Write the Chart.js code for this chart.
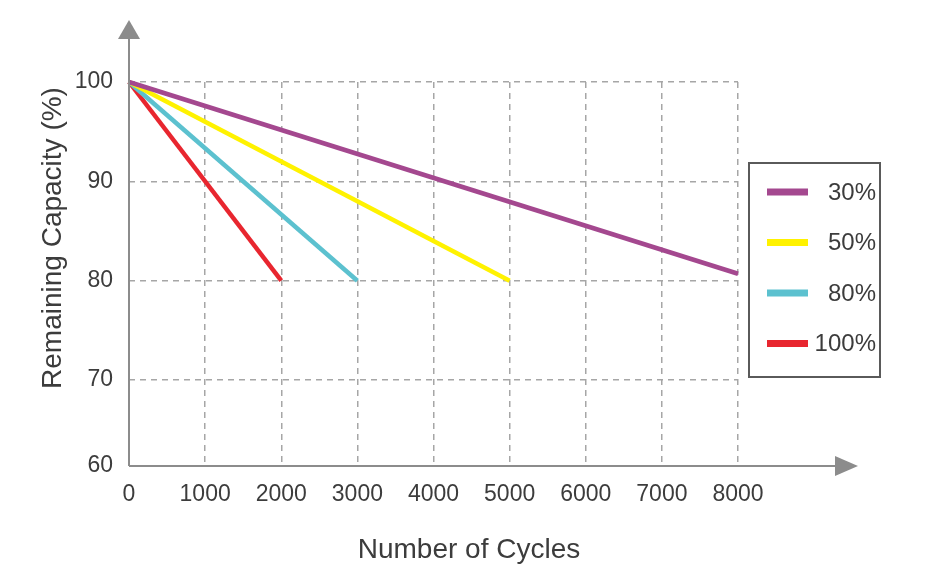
<!DOCTYPE html>
<html>
<head>
<meta charset="utf-8">
<script src="https://cdn.jsdelivr.net/npm/chart.js@4.4.1/dist/chart.umd.min.js"></script>
<style>
  html, body { margin: 0; padding: 0; background: #fff; }
  #wrap { width: 940px; height: 588px; }
</style>
</head>
<body>
<div id="wrap"><canvas id="grafico"></canvas></div>
<script>
// dados
const rotulosSerie = ["30%", "50%", "80%", "100%"];
const ciclos30 = [0, 8000], capacidade30 = [100, 80.7];
const ciclos50 = [0, 5000], capacidade50 = [100, 80];
const ciclos80 = [0, 3000], capacidade80 = [100, 80];
const ciclos100 = [0, 2000], capacidade100 = [100, 80];
const ticksX = [0, 1000, 2000, 3000, 4000, 5000, 6000, 7000, 8000];
const ticksY = [60, 70, 80, 90, 100];
const coresSerie = ["#a4488f", "#fff200", "#5cc1cf", "#e8262f"];
const tituloX = "Number of Cycles";
const tituloY = "Remaining Capacity (%)";

const FONTE = "'Liberation Sans', Arial, Helvetica, sans-serif";
const CINZA = "#8c8c8c";
const TEXTO = "#3c3c3c";
const Y_BASE = 61.35; // o eixo original comprime o trecho 60-70

function pontos(xs, ys) { return xs.map((x, i) => ({ x, y: ys[i] })); }

const series = [
  pontos(ciclos30, capacidade30),
  pontos(ciclos50, capacidade50),
  pontos(ciclos80, capacidade80),
  pontos(ciclos100, capacidade100),
];

// eixos com seta, títulos e legenda em caixa
const eixosESeta = {
  id: "eixosESeta",
  afterDraw(chart) {
    const { ctx, chartArea: a } = chart;
    ctx.save();
    ctx.strokeStyle = CINZA;
    ctx.fillStyle = CINZA;
    ctx.lineWidth = 2;
    ctx.beginPath();
    ctx.moveTo(a.left, a.bottom); ctx.lineTo(a.left, 38);
    ctx.moveTo(a.left, a.bottom); ctx.lineTo(836, a.bottom);
    ctx.stroke();
    ctx.beginPath();
    ctx.moveTo(a.left, 20); ctx.lineTo(a.left - 11, 39); ctx.lineTo(a.left + 11, 39); ctx.closePath();
    ctx.fill();
    ctx.beginPath();
    ctx.moveTo(858, a.bottom); ctx.lineTo(835, a.bottom - 10); ctx.lineTo(835, a.bottom + 10); ctx.closePath();
    ctx.fill();

    // títulos dos eixos
    ctx.fillStyle = TEXTO;
    ctx.font = "28px " + FONTE;
    ctx.textAlign = "center";
    ctx.textBaseline = "middle";
    ctx.fillText(tituloX, 469, 550);
    ctx.save();
    ctx.translate(53, 238);
    ctx.rotate(-Math.PI / 2);
    ctx.fillText(tituloY, 0, 0);
    ctx.restore();

    // legenda
    const x0 = a.right + 11, y0 = 163, w = 131, h = 214;
    ctx.strokeStyle = "#5a5a5a";
    ctx.lineWidth = 2;
    ctx.strokeRect(x0, y0, w, h);
    ctx.font = "24px " + FONTE;
    ctx.textAlign = "right";
    chart.data.datasets.forEach((ds, i) => {
      const y = y0 + 29 + i * 50.5;
      ctx.strokeStyle = ds.borderColor;
      ctx.lineWidth = 7;
      ctx.beginPath();
      ctx.moveTo(x0 + 18, y); ctx.lineTo(x0 + 59, y);
      ctx.stroke();
      ctx.fillStyle = TEXTO;
      ctx.fillText(ds.label, x0 + w - 4, y + 1);
    });
    ctx.restore();
  },
};

new Chart(document.getElementById("grafico"), {
  type: "line",
  data: {
    datasets: series.map((d, i) => ({
      label: rotulosSerie[i],
      data: d,
      borderColor: coresSerie[i],
      backgroundColor: coresSerie[i],
      borderWidth: 4.5,
      pointRadius: 0,
      tension: 0,
      clip: false,
    })),
  },
  options: {
    responsive: true,
    maintainAspectRatio: false,
    animation: false,
    layout: { padding: { top: 82, right: 202, left: 0, bottom: 0 } },
    plugins: { legend: { display: false }, tooltip: { enabled: false } },
    scales: {
      x: {
        type: "linear",
        min: ticksX[0],
        max: ticksX[ticksX.length - 1],
        afterFit: (s) => { s.height = 122; },
        afterBuildTicks: (s) => { s.ticks = ticksX.map((v) => ({ value: v })); },
        border: { display: false, dash: [6, 5] },
        grid: { color: "#a6a6a6", lineWidth: 1.5, drawTicks: false },
        ticks: {
          padding: 15, color: TEXTO, font: { family: FONTE, size: 23 }, maxRotation: 0,
          callback: (v) => String(v),
        },
      },
      y: {
        type: "linear",
        min: Y_BASE,
        max: ticksY[ticksY.length - 1],
        afterFit: (s) => { s.width = 129; },
        afterBuildTicks: (s) => { s.ticks = ticksY.map((v, i) => ({ value: i === 0 ? Y_BASE : v })); },
        border: { display: false, dash: [6, 5] },
        grid: { color: "#a6a6a6", lineWidth: 1.5, drawTicks: false },
        ticks: {
          padding: 16, color: TEXTO, font: { family: FONTE, size: 23 },
          callback: (v) => (v === Y_BASE ? String(ticksY[0]) : String(v)),
        },
      },
    },
  },
  plugins: [eixosESeta],
});
</script>
</body>
</html>
